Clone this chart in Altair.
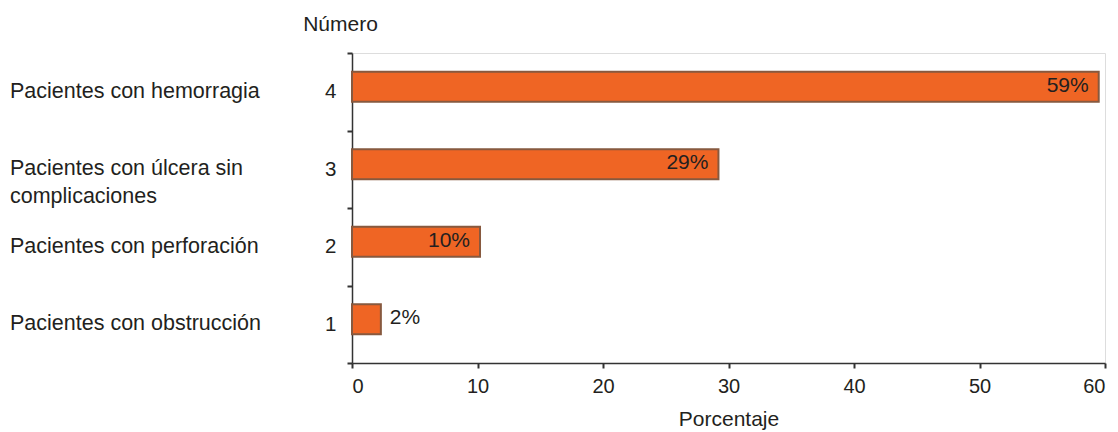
import altair as alt
import pandas as pd

numbers = [4, 3, 2, 1]
names_line1 = ["Pacientes con hemorragia", "Pacientes con úlcera sin", "Pacientes con perforación", "Pacientes con obstrucción"]
names_line2 = ["", "complicaciones", "", ""]
values = [59.5, 29.2, 10.2, 2.3]
labels = ["59%", "29%", "10%", "2%"]
label_inside = [True, True, True, False]
x_ticks = [0, 10, 20, 30, 40, 50, 60]

df = pd.DataFrame({
    "num": numbers,
    "name1": names_line1,
    "name2": names_line2,
    "value": values,
    "label": labels,
    "inside": label_inside,
})

FONT = "Liberation Sans"
TXT = "#231f20"

y_enc = alt.Y(
    "num:O",
    sort=numbers,
    scale=alt.Scale(paddingInner=0, paddingOuter=0),
    axis=alt.Axis(
        title="Número",
        titleAngle=0,
        titleX=-12,
        titleY=-29,
        titleAlign="center",
        titleBaseline="middle",
        titleFontSize=21,
        titleFontWeight="normal",
        titleColor=TXT,
        labelFontSize=20.5,
        labelColor=TXT,
        labelPadding=11,
        tickSize=5,
        tickBand="extent",
        tickColor="#333333",
        tickWidth=2,
        domainColor="#333333",
        domainWidth=1.5,
    ),
)

x_enc = alt.X(
    "value:Q",
    scale=alt.Scale(domain=[0, 60], nice=False),
    axis=alt.Axis(
        values=x_ticks,
        title="Porcentaje",
        titleFontSize=21,
        titleFontWeight="normal",
        titleColor=TXT,
        titlePadding=12,
        labelFontSize=20,
        labelColor=TXT,
        labelPadding=8,
        tickSize=5,
        tickColor="#333333",
        tickWidth=2,
        domainColor="#333333",
        domainWidth=1.5,
        grid=False,
    ),
)

base = alt.Chart(df)

bars = base.mark_bar(
    height=30, yOffset=-5, color="#ef6524", stroke="#87593f", strokeWidth=2
).encode(x=x_enc, y=y_enc)

lab_in = base.transform_filter("datum.inside").mark_text(
    align="right", baseline="middle", dx=-10, dy=-6, fontSize=21, font=FONT, color=TXT
).encode(x="value:Q", y=alt.Y("num:O", sort=numbers), text="label:N")

lab_out = base.transform_filter("!datum.inside").mark_text(
    align="left", baseline="middle", dx=9, dy=-6, fontSize=21, font=FONT, color=TXT
).encode(x="value:Q", y=alt.Y("num:O", sort=numbers), text="label:N")

names1 = base.mark_text(
    align="left", baseline="middle", fontSize=21.5, font=FONT, color=TXT
).encode(x=alt.value(-342), y=alt.Y("num:O", sort=numbers), text="name1:N")

names2 = base.transform_filter("datum.name2 != ''").mark_text(
    align="left", baseline="middle", dy=28, fontSize=21.5, font=FONT, color=TXT
).encode(x=alt.value(-342), y=alt.Y("num:O", sort=numbers), text="name2:N")

chart = alt.layer(bars, lab_in, lab_out, names1, names2).properties(
    width=753,
    height=310,
    autosize=alt.AutoSizeParams(type="none"),
    padding={"left": 352, "top": 53, "right": 13, "bottom": 69},
    background="white",
).configure_view(stroke=None).configure(font=FONT)

chart.save("out.html", embed_options={"renderer": "svg", "actions": False})
